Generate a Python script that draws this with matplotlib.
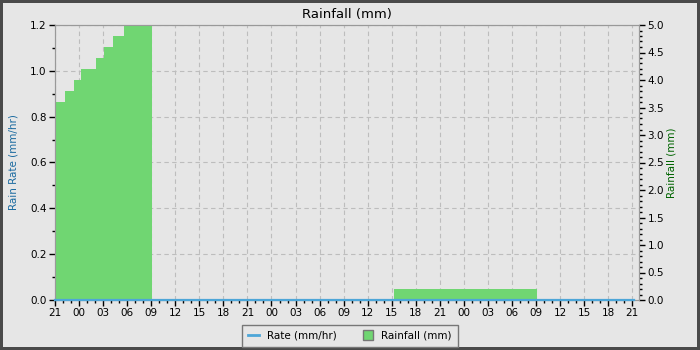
import matplotlib
matplotlib.use('Agg')
import matplotlib.pyplot as plt
import matplotlib.dates as mdates
from matplotlib.lines import Line2D
from matplotlib.ticker import MultipleLocator, FormatStrFormatter
import pandas as pd

# data (start of window: 21:00 on day 0)
rain_times = pd.to_datetime([
    '2024-05-01 21:10', '2024-05-01 22:15', '2024-05-01 23:23', '2024-05-02 00:15',
    '2024-05-02 02:08', '2024-05-02 03:06', '2024-05-02 04:16', '2024-05-02 05:40',
    '2024-05-02 09:05', '2024-05-03 15:13', '2024-05-04 09:05', '2024-05-04 21:12',
])
rain_mm = [3.6, 3.8, 4.0, 4.2, 4.4, 4.6, 4.8, 5.0, 0.0, 0.2, 0.0, 0.0]

rate_times = pd.to_datetime(['2024-05-01 21:00', '2024-05-02 21:00',
                             '2024-05-03 21:00', '2024-05-04 21:12'])
rate_mmhr = [0.0, 0.0, 0.0, 0.0]

x_start = pd.Timestamp('2024-05-01 21:00')
x_end = pd.Timestamp('2024-05-04 21:50')

bg = '#e6e6e6'
green = '#70d672'
blue = '#4da6d8'
grid_c = '#bdbdbd'
spine_c = '#999999'

plt.rcParams['font.family'] = 'DejaVu Sans'
plt.rcParams['font.size'] = 7.5

fig = plt.figure(figsize=(7, 3.5), dpi=100, facecolor=bg, edgecolor='#4a4a4a', linewidth=3)
ax1 = fig.add_axes([55 / 700, 50 / 350, 584 / 700, 275 / 350])
ax1.set_facecolor(bg)
ax2 = ax1.twinx()

# rainfall fill (right axis)
ax2.fill_between(rain_times, rain_mm, step='post', color=green, linewidth=0, zorder=2)
# rain rate line (left axis scale), drawn on top
ax2.plot(rate_times, rate_mmhr, color=blue, linewidth=1.6, transform=ax1.transData,
         clip_on=False, zorder=5)

ax1.set_xlim(x_start, x_end)
ax1.set_ylim(0, 1.2)
ax2.set_ylim(0, 5.0)

ax1.xaxis.set_major_locator(mdates.HourLocator(byhour=range(0, 24, 3)))
ax1.xaxis.set_minor_locator(mdates.HourLocator())
ax1.xaxis.set_major_formatter(mdates.DateFormatter('%H'))
ax1.yaxis.set_major_locator(MultipleLocator(0.2))
ax1.yaxis.set_minor_locator(MultipleLocator(0.1))
ax2.yaxis.set_major_locator(MultipleLocator(0.5))
ax2.yaxis.set_minor_locator(MultipleLocator(0.1))
ax1.yaxis.set_major_formatter(FormatStrFormatter('%.1f'))
ax2.yaxis.set_major_formatter(FormatStrFormatter('%.1f'))

for ax in (ax1, ax2):
    ax.tick_params(which='major', length=4, width=1, colors='black', labelsize=7.5, pad=2)
    ax.tick_params(which='minor', length=2, width=1, colors='black')
    for s in ax.spines.values():
        s.set_color(spine_c)

ax1.grid(True, which='major', color=grid_c, linestyle=(0, (4, 3)), linewidth=0.8)
ax1.set_axisbelow(True)

ax1.set_ylabel('Rain Rate (mm/hr)', color='#1a6aa0', fontsize=7.5, labelpad=8)
ax2.set_ylabel('Rainfall (mm)', color='#006400', fontsize=7.5, labelpad=2)
ax1.set_title('Rainfall (mm)', fontsize=9.5, pad=5)

handles = [
    Line2D([], [], color=blue, linewidth=2),
    Line2D([], [], marker='s', linestyle='', markerfacecolor=green,
           markeredgecolor='#777777', markersize=7),
]
fig.legend(handles, ['Rate (mm/hr)', 'Rainfall (mm)'], loc='lower center',
           bbox_to_anchor=(0.5, -0.007), ncol=2, fontsize=7.5, frameon=True,
           fancybox=False, edgecolor='#777777', facecolor=bg, framealpha=1,
           handlelength=1.0, columnspacing=2.5, borderpad=0.6)

fig.savefig('out.png', dpi=100)
